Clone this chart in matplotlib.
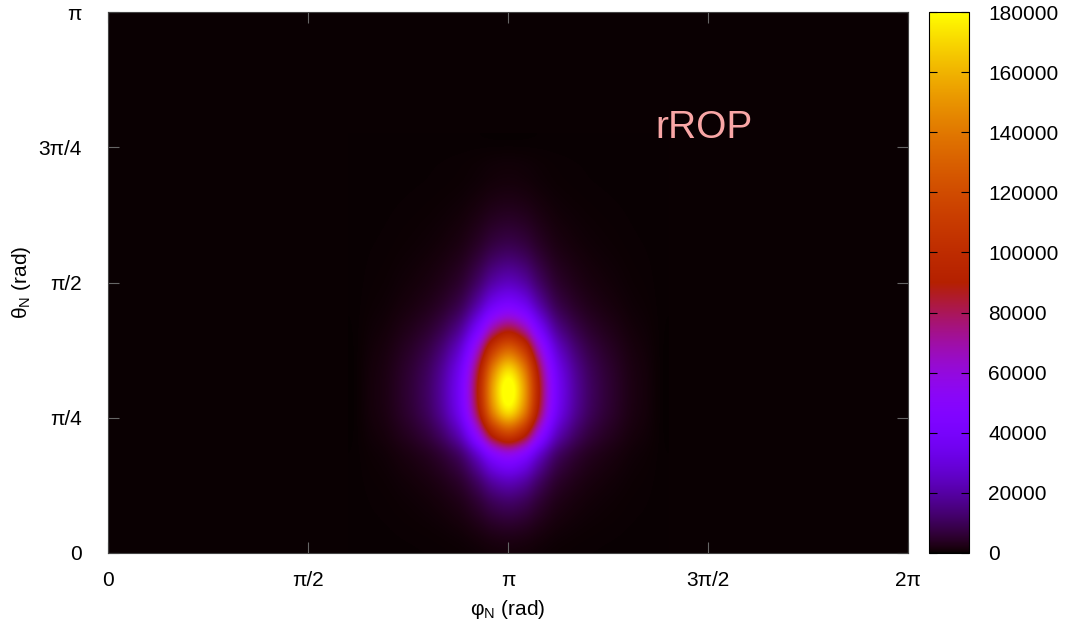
import numpy as np
import matplotlib
matplotlib.use("Agg")
import matplotlib.pyplot as plt
from matplotlib.colors import Normalize

plt.rcParams["font.family"] = ["Liberation Sans", "DejaVu Sans"]
plt.rcParams["mathtext.default"] = "regular"

# peak position / height
peak_phi = np.pi
peak_theta = 0.935
peak_counts = 185000
background_counts = 300

# relative profiles through the peak, sampled every 0.12 rad
phi_offsets = np.arange(-10, 11) * 0.12
phi_profile = [0.0, 0.005, 0.011, 0.024, 0.042, 0.072, 0.13, 0.24, 0.49, 0.84,
               1.0,
               0.84, 0.49, 0.24, 0.13, 0.072, 0.042, 0.024, 0.011, 0.005, 0.0]
theta_offsets = np.arange(-8, 13) * 0.12
theta_profile = [0.004, 0.013, 0.038, 0.08, 0.16, 0.31, 0.63, 0.92,
                 1.0,
                 0.93, 0.72, 0.46, 0.26, 0.15, 0.09, 0.05, 0.028, 0.014,
                 0.006, 0.003, 0.0]

counts = background_counts + peak_counts * np.outer(theta_profile, phi_profile)
phi_nodes = peak_phi + phi_offsets
theta_nodes = peak_theta + theta_offsets

x_ticks = [0, np.pi / 2, np.pi, 3 * np.pi / 2, 2 * np.pi]
x_labels = ["0", "π/2", "π", "3π/2", "2π"]
y_ticks = [0, np.pi / 4, np.pi / 2, 3 * np.pi / 4, np.pi]
y_labels = ["0", "π/4", "π/2", "3π/4", "π"]
cb_ticks = np.arange(0, 180001, 20000)

cmap = plt.get_cmap("gnuplot").resampled(2048)
norm = Normalize(vmin=0, vmax=180000)

fig = plt.figure(figsize=(10.66, 6.33), dpi=100)
ax = fig.add_axes([108 / 1066, 80 / 633, 800 / 1066, 541 / 633])
cax = fig.add_axes([929 / 1066, 80 / 633, 40 / 1066, 541 / 633])

ax.set_facecolor(cmap(norm(background_counts)))
dphi = phi_nodes[1] - phi_nodes[0]
dth = theta_nodes[1] - theta_nodes[0]
im = ax.imshow(counts, origin="lower", cmap=cmap, norm=norm, aspect="auto",
               interpolation="catrom", interpolation_stage="data",
               extent=[phi_nodes[0] - dphi / 2, phi_nodes[-1] + dphi / 2,
                       theta_nodes[0] - dth / 2, theta_nodes[-1] + dth / 2])
ax.set_xlim(0, 2 * np.pi)
ax.set_ylim(0, np.pi)

fs = 15
ax.set_xticks(x_ticks)
ax.set_xticklabels(x_labels, fontsize=fs)
ax.set_yticks(y_ticks)
ax.set_yticklabels(y_labels, fontsize=fs)
ax.tick_params(direction="in", length=8, width=0.8, color="#666666",
               top=True, right=True)
ax.tick_params(axis="x", pad=13)
ax.tick_params(axis="y", pad=19)
for s in ax.spines.values():
    s.set_edgecolor("#444444")
ax.set_xlabel("φ$_N$ (rad)", fontsize=fs, labelpad=6)
ax.set_ylabel("θ$_N$ (rad)", fontsize=fs, labelpad=4)

ax.text(4.68, 2.47, "rROP", color="#f9a6a6", fontsize=28, ha="center", va="center")

cb = fig.colorbar(im, cax=cax, ticks=cb_ticks)
cax.tick_params(direction="in", length=6, left=True, right=True,
                labelsize=fs, pad=14)
cb.outline.set_linewidth(0.8)

fig.savefig("out.png", dpi=100)
